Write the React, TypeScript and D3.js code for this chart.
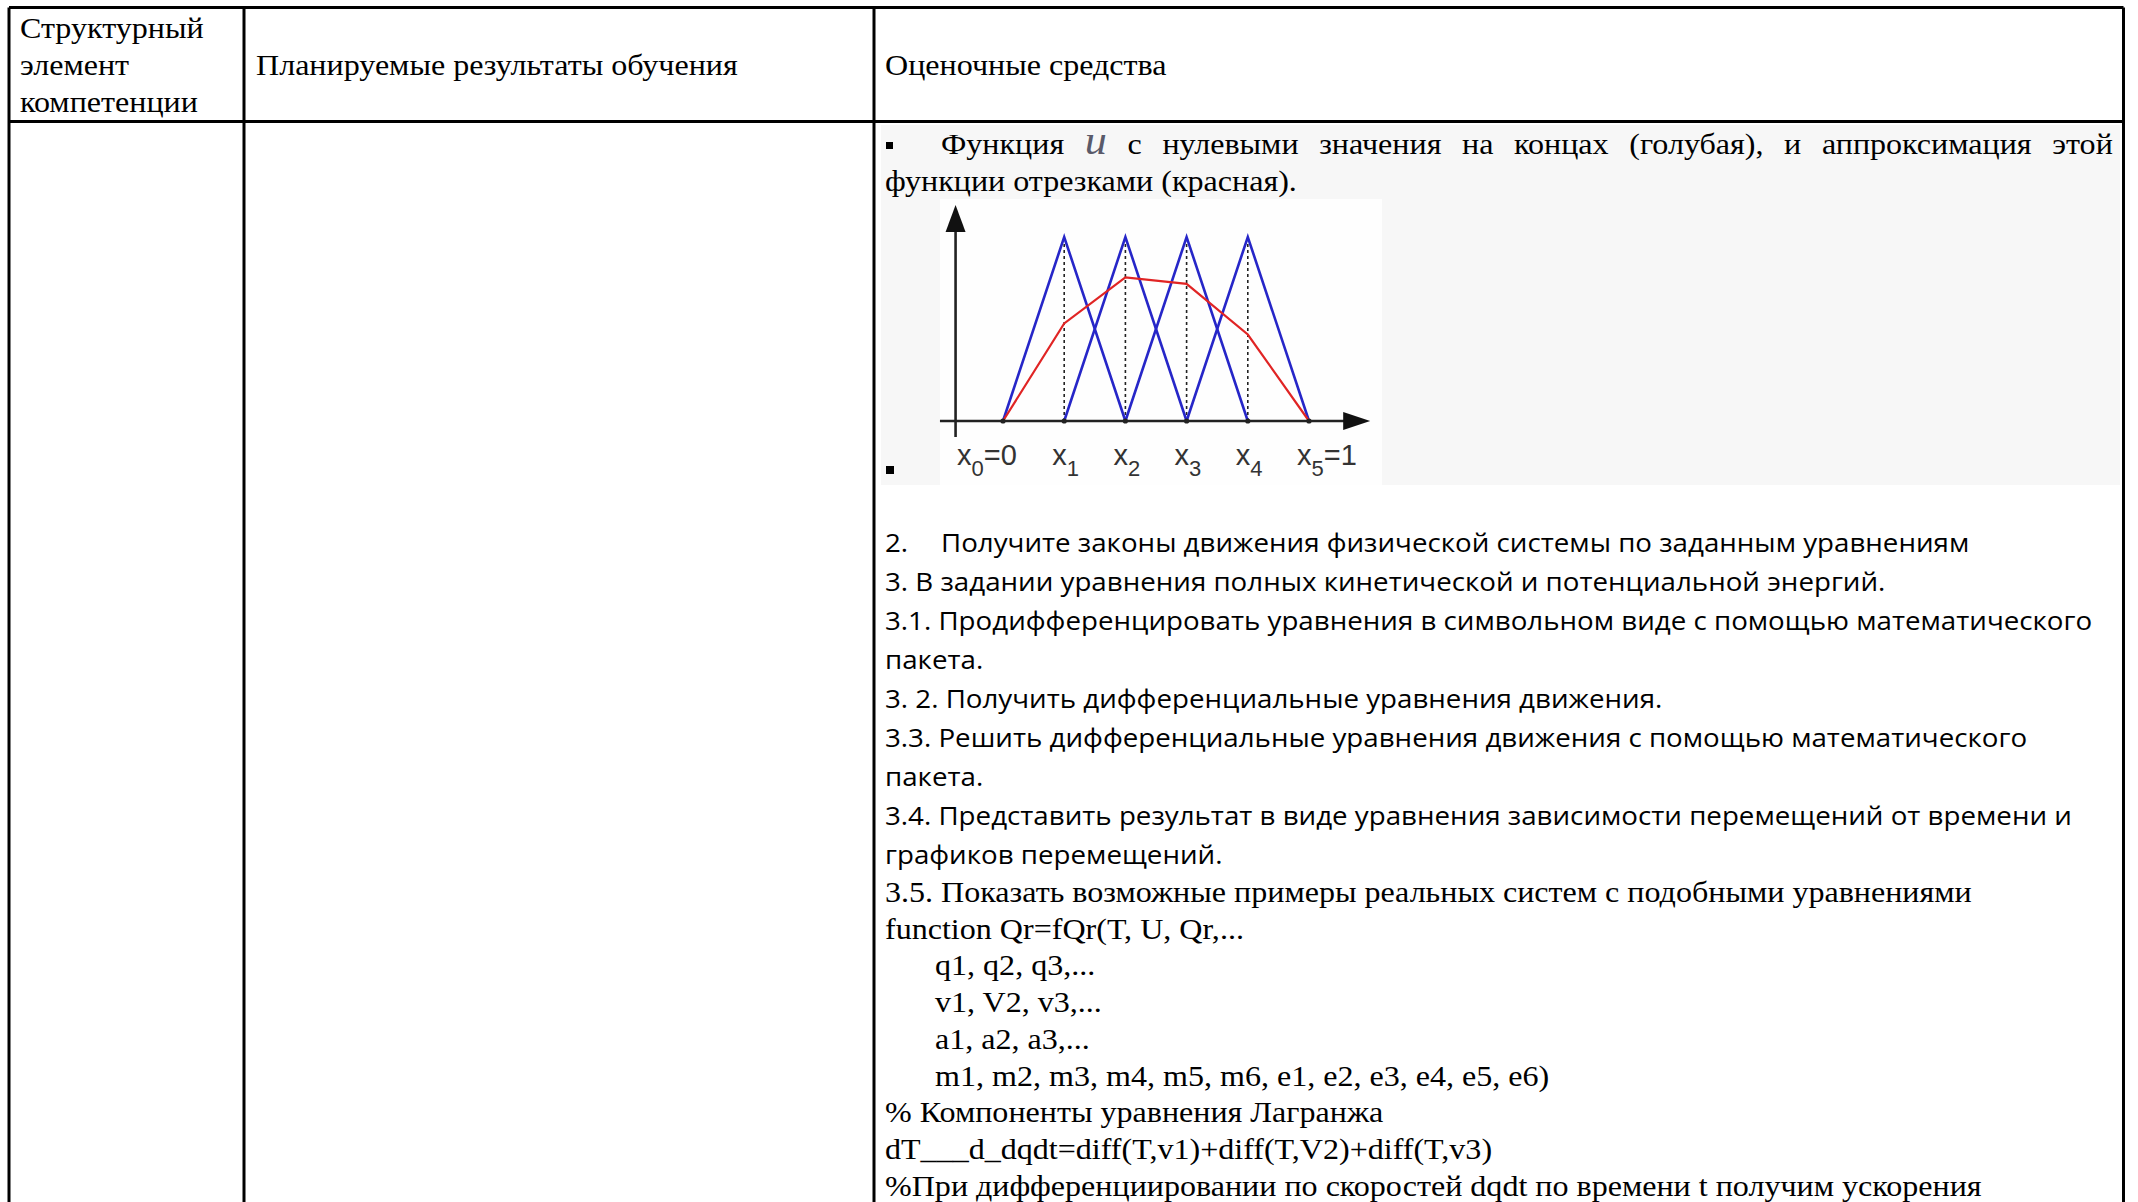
import React, { useLayoutEffect, useRef, useState } from 'react';
import * as d3 from 'd3';

const W = 2138;
const H = 1202;

// ---- chart data (finite-element hat functions) ----
const nodes = [0, 0.2, 0.4, 0.6, 0.8, 1];
const nodeNames = ['0', '1', '2', '3', '4', '5'];
const nodeSuffix = ['=0', '', '', '', '', '=1'];
const approxValues = [0, 0.53, 0.78, 0.745, 0.47, 0];
const hatPeakIndex = [1, 2, 3, 4];

// ---- table / text content ----
const headCol1 = ['Структурный', 'элемент', 'компетенции'];
const headCol2 = 'Планируемые результаты обучения';
const headCol3 = 'Оценочные средства';
const para1Words = ['Функция', 'u', 'с', 'нулевыми', 'значения', 'на', 'концах', '(голубая),', 'и', 'аппроксимация', 'этой'];
const para1Line2 = 'функции отрезками (красная).';
const task2Num = '2.';
const task2Text = 'Получите законы движения физической системы по заданным уравнениям';
const para2Lines = [
  '3. В задании уравнения полных кинетической и потенциальной энергий.',
  '3.1. Продифференцировать уравнения в символьном виде с помощью математического',
  'пакета.',
  '3. 2. Получить дифференциальные уравнения движения.',
  '3.3. Решить дифференциальные уравнения движения с помощью математического',
  'пакета.',
  '3.4. Представить результат в виде уравнения зависимости перемещений от времени и',
  'графиков перемещений.',
];
const para3Lines = [
  '3.5. Показать возможные примеры реальных систем с подобными уравнениями',
  'function Qr=fQr(T, U, Qr,...',
  'q1, q2, q3,...',
  'v1, V2, v3,...',
  'a1, a2, a3,...',
  'm1, m2, m3, m4, m5, m6, e1, e2, e3, e4, e5, e6)',
  '% Компоненты уравнения Лагранжа',
  'dT___d_dqdt=diff(T,v1)+diff(T,V2)+diff(T,v3)',
  '%При дифференциировании по скоростей dqdt по времени t получим ускорения',
];
const para3Indented = [false, false, true, true, true, true, false, false, false];

const SERIF = "'Liberation Serif', 'Times New Roman', serif";
const SANS = "'Open Sans', 'Noto Sans', sans-serif";
const HELV = "'Liberation Sans', Arial, sans-serif";

// layout
const X0 = 9, X1 = 244, X2 = 874, X3 = 2123.5;
const TOP = 7.5, HEAD_BOTTOM = 121.5;
const TXT3 = 885;
const SERIF_REF_WIDTH = 1087; // width of "3.5. Показать ..." line
const SANS_REF_WIDTH = 1208; // width of "3.1. Продифференцировать ..." line
const JUST_START = 941, JUST_END = 2113;

export default function App() {
  const serifRef = useRef<SVGTextElement>(null);
  const sansRef = useRef<SVGTextElement>(null);
  const justRef = useRef<SVGTextElement>(null);
  const [m, setM] = useState({ sxSerif: 1, sxSans: 1, ws: 0 });

  useLayoutEffect(() => {
    const ls = serifRef.current ? serifRef.current.getComputedTextLength() : SERIF_REF_WIDTH;
    const lsa = sansRef.current ? sansRef.current.getComputedTextLength() : SANS_REF_WIDTH;
    const sxSerif = SERIF_REF_WIDTH / ls;
    const sxSans = SANS_REF_WIDTH / lsa;
    const lj = justRef.current ? justRef.current.getComputedTextLength() : 0;
    const ws = ((JUST_END - JUST_START) / sxSerif - lj) / (para1Words.length - 1);
    setM({ sxSerif, sxSans, ws });
  }, []);

  // chart scales
  const x = d3.scaleLinear().domain([0, 1]).range([1003, 1309]);
  const y = d3.scaleLinear().domain([0, 1]).range([421, 237]);
  const line = d3.line<[number, number]>().x(d => x(d[0])).y(d => y(d[1]));

  const hats = hatPeakIndex.map(i => [
    [nodes[i - 1], 0],
    [nodes[i], 1],
    [nodes[i + 1], 0],
  ] as [number, number][]);
  const approx = nodes.map((n, i) => [n, approxValues[i]] as [number, number]);

  const axisYAt = -0.155;
  const xAxisFrom = -0.206, xAxisTip = 1.2;
  const yAxisFrom = -0.087, yAxisTip = 1.174;
  const tipX = x(xAxisTip), baseY = y(0);
  const tipY = y(yAxisTip), axX = x(axisYAt);

  const serifT = (tx: number, ty: number) => `translate(${tx},${ty}) scale(${m.sxSerif},1)`;
  const sansT = (tx: number, ty: number) => `translate(${tx},${ty}) scale(${m.sxSans},1)`;

  const fsSerif = 29;
  const fsSans = 26;

  return (
    <svg width={W} height={H} style={{ position: 'absolute', left: 0, top: 0, background: '#fff' }}>
      <rect x={0} y={0} width={W} height={H} fill="#fff" />
      {/* gray paragraph background */}
      <rect x={881} y={125} width={1239} height={360} fill="#f7f7f7" />
      {/* chart image background */}
      <rect x={940} y={199} width={442} height={286} fill="#fefefe" />

      {/* table lines */}
      <g stroke="#000" strokeWidth={3}>
        <line x1={X0} x2={X3} y1={TOP} y2={TOP} />
        <line x1={X0} x2={X3} y1={HEAD_BOTTOM} y2={HEAD_BOTTOM} />
        <line x1={X0} x2={X0} y1={TOP} y2={H} />
        <line x1={X1} x2={X1} y1={TOP} y2={H} />
        <line x1={X2} x2={X2} y1={TOP} y2={H} />
        <line x1={X3} x2={X3} y1={TOP} y2={H} />
      </g>

      {/* header text */}
      <g style={{ fontFamily: SERIF }} fontSize={fsSerif} fill="#000">
        {headCol1.map((t, i) => (
          <text key={t} transform={serifT(20, 38 + i * 36.8)}>{t}</text>
        ))}
        <text transform={serifT(256, 75)}>{headCol2}</text>
        <text transform={serifT(TXT3, 75)}>{headCol3}</text>
      </g>

      {/* paragraph 1 */}
      <rect x={886} y={142} width={7} height={7} fill="#000" />
      <text
        ref={justRef}
        transform={serifT(JUST_START, 154)}
        style={{ fontFamily: SERIF, whiteSpace: 'pre' }}
        fontSize={fsSerif}
        wordSpacing={m.ws}
      >
        {para1Words.map((w, i) => (
          <React.Fragment key={i}>
            {i > 0 ? ' ' : ''}
            {w === 'u' ? (
              <tspan fontStyle="italic" fontSize={40} fill="#5a5a6a">{w}</tspan>
            ) : (
              <tspan>{w}</tspan>
            )}
          </React.Fragment>
        ))}
      </text>
      <text transform={serifT(TXT3, 191)} style={{ fontFamily: SERIF }} fontSize={fsSerif}>{para1Line2}</text>

      {/* chart */}
      <rect x={886} y={466} width={8} height={8} fill="#000" />
      <g>
        {hatPeakIndex.map(i => (
          <line
            key={'d' + i}
            x1={x(nodes[i])}
            x2={x(nodes[i])}
            y1={y(0)}
            y2={y(1)}
            stroke="#222"
            strokeWidth={1.6}
            strokeDasharray="3,3"
          />
        ))}
        {hats.map((h, i) => (
          <path key={'h' + i} d={line(h) || ''} fill="none" stroke="#2626c8" strokeWidth={2.6} strokeLinejoin="miter" />
        ))}
        <path d={line(approx) || ''} fill="none" stroke="#e02424" strokeWidth={2.2} />
        {/* axes */}
        <line x1={x(xAxisFrom)} x2={tipX - 20} y1={baseY} y2={baseY} stroke="#222" strokeWidth={2.6} />
        <path d={`M${tipX},${baseY} L${tipX - 27},${baseY - 9} L${tipX - 27},${baseY + 9} Z`} fill="#111" />
        <line x1={axX} x2={axX} y1={y(yAxisFrom)} y2={tipY + 20} stroke="#222" strokeWidth={2.6} />
        <path d={`M${axX},${tipY} L${axX - 10},${tipY + 27} L${axX + 10},${tipY + 27} Z`} fill="#111" />
        {nodes.map((n, i) => (
          <circle key={'c' + i} cx={x(n)} cy={baseY} r={2.6} fill="#222" />
        ))}
        {nodes.map((n, i) => (
          <text key={'l' + i} x={x(n) + (i === 0 ? -46 : -12)} y={465} style={{ fontFamily: HELV }} fontSize={29} fill="#333">
            <tspan>x</tspan>
            <tspan dy={11} fontSize={22}>{nodeNames[i]}</tspan>
            {nodeSuffix[i] ? <tspan dy={-11}>{nodeSuffix[i]}</tspan> : null}
          </text>
        ))}
      </g>

      {/* paragraph 2 (sans) */}
      <g style={{ fontFamily: SANS }} fontSize={fsSans} fill="#000">
        <text transform={sansT(TXT3, 552)}>{task2Num}</text>
        <text transform={sansT(941, 552)}>{task2Text}</text>
        {para2Lines.map((t, i) => (
          <text key={i} ref={i === 1 ? sansRef : undefined} transform={sansT(TXT3, 591 + i * 39)}>{t}</text>
        ))}
      </g>

      {/* paragraph 3 (serif) */}
      <g style={{ fontFamily: SERIF }} fontSize={fsSerif} fill="#000">
        {para3Lines.map((t, i) => (
          <text
            key={i}
            ref={i === 0 ? serifRef : undefined}
            transform={serifT(para3Indented[i] ? 935 : TXT3, 902 + i * 36.7)}
            style={{ whiteSpace: 'pre' }}
          >
            {t}
          </text>
        ))}
      </g>
    </svg>
  );
}
